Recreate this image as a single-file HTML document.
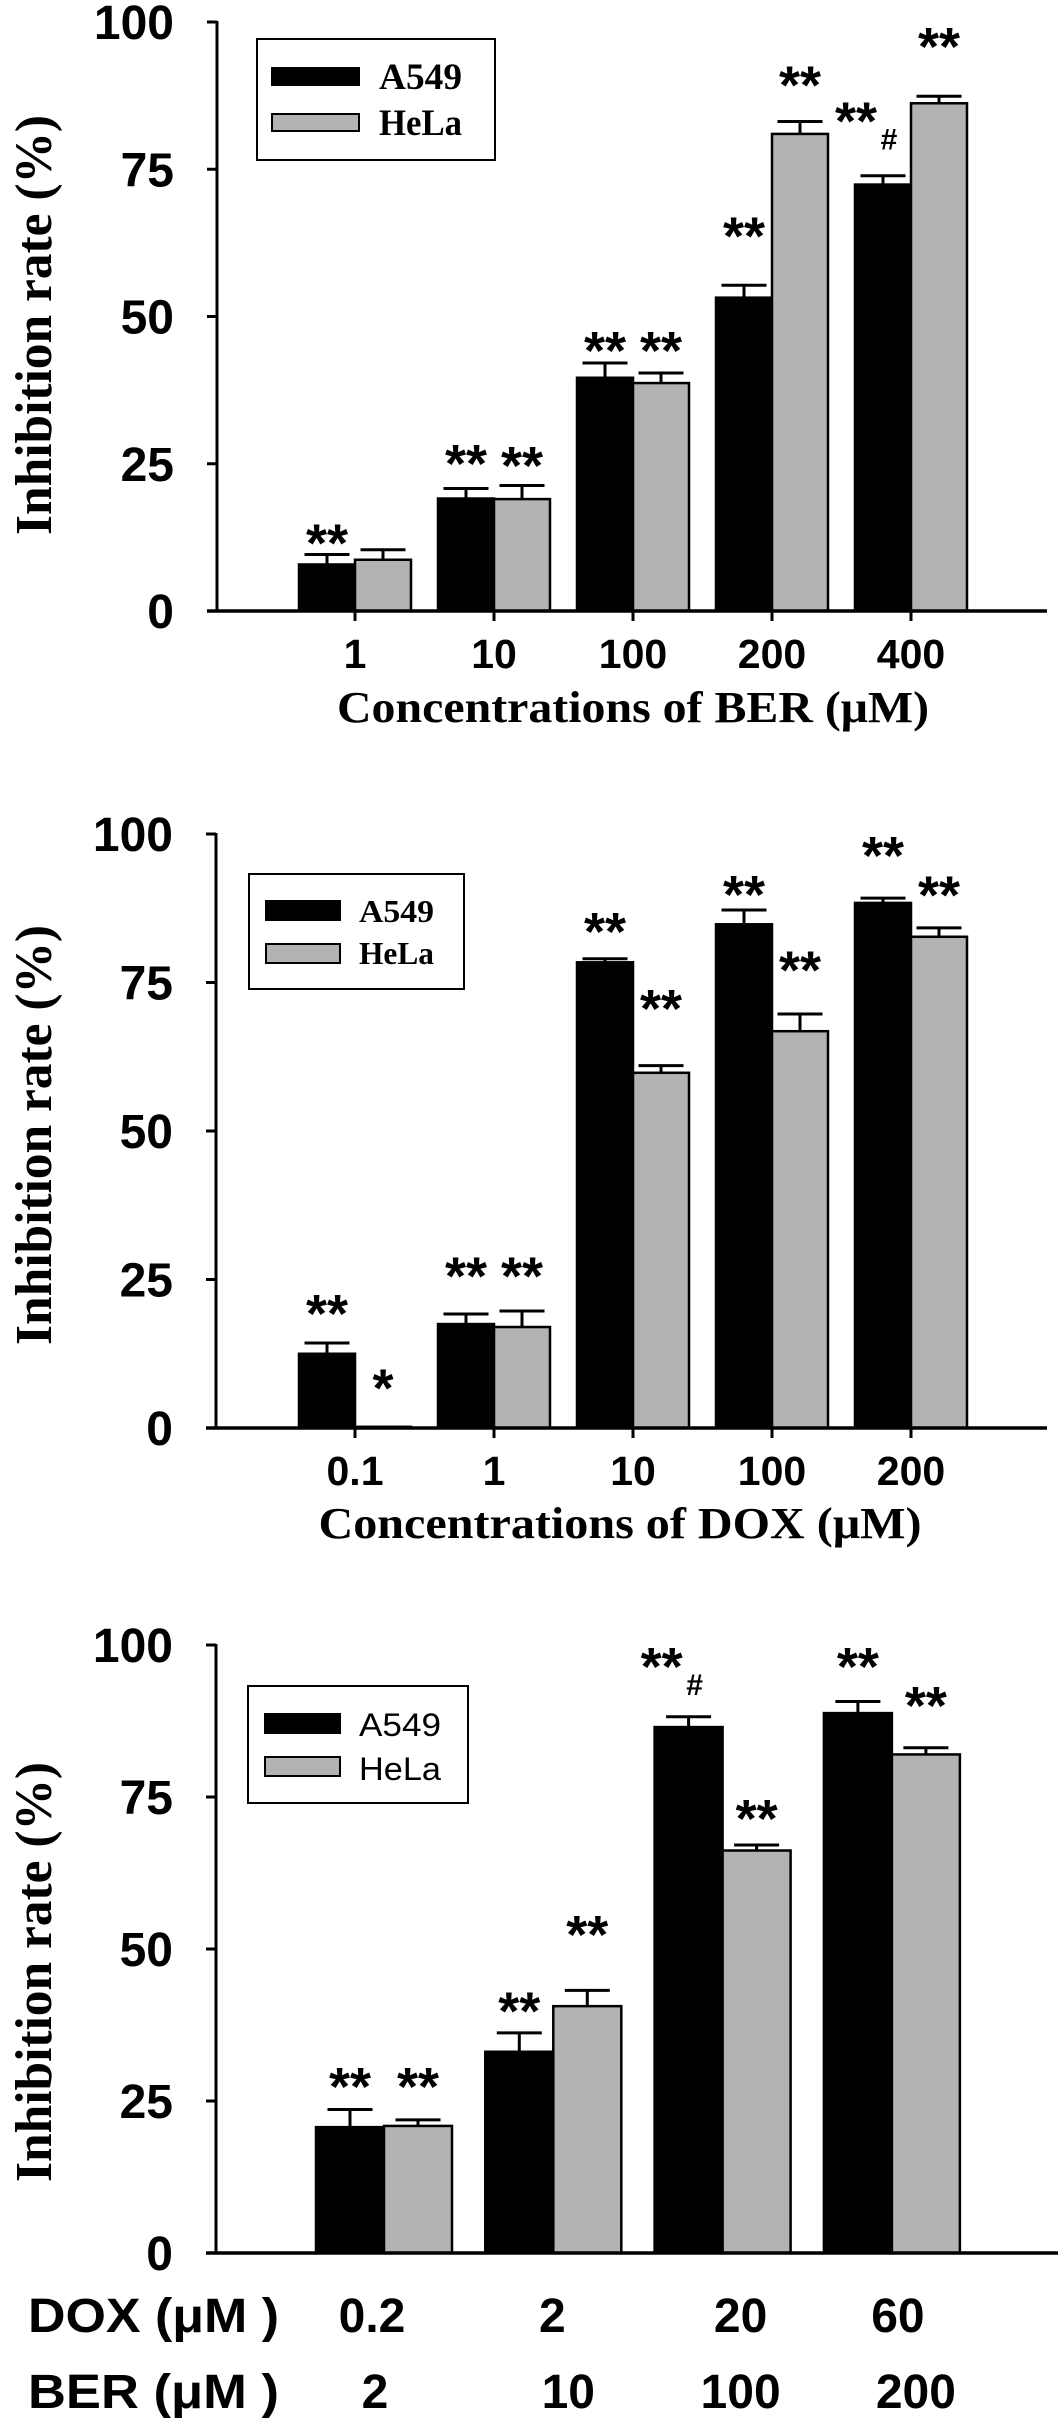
<!DOCTYPE html>
<html><head><meta charset="utf-8">
<style>
html,body{margin:0;padding:0;background:#fff;}
svg{display:block;}
</style></head>
<body>
<svg id="fig" width="1063" height="2427" viewBox="0 0 1063 2427" xmlns="http://www.w3.org/2000/svg"></svg>
<script>
// ---------- Chart 1: BER ----------
const berCats = ["1","10","100","200","400"];
const berA549 = [7.9, 19.1, 39.6, 53.2, 72.4];
const berA549Err = [1.7, 1.7, 2.5, 2.1, 1.5];
const berHeLa = [8.7, 19.0, 38.7, 81.0, 86.2];
const berHeLaErr = [1.7, 2.3, 1.7, 2.1, 1.2];
const berA549Star = ["**","**","**","**","**"];
const berHeLaStar = ["","**","**","**","**"];
const berA549StarAt = [10.4, 23.9, 43.1, 62.6, 82.1];
const berHeLaStarAt = [0, 23.6, 43.1, 88.2, 94.7];
const berA549Hash = [0,0,0,0,1];
const berTicks = [0,25,50,75,100];

// ---------- Chart 2: DOX ----------
const doxCats = ["0.1","1","10","100","200"];
const doxA549 = [12.5, 17.5, 78.4, 84.8, 88.4];
const doxA549Err = [1.8, 1.7, 0.6, 2.4, 0.8];
const doxHeLa = [0.2, 17.0, 59.8, 66.8, 82.7];
const doxHeLaErr = [0, 2.7, 1.2, 2.9, 1.5];
const doxA549Star = ["**","**","**","**","**"];
const doxHeLaStar = ["*","**","**","**","**"];
const doxA549StarAt = [18.2, 24.5, 82.5, 88.7, 95.3];
const doxHeLaStarAt = [5.6, 24.5, 69.5, 76.0, 88.6];
const doxTicks = [0,25,50,75,100];

// ---------- Chart 3: combination ----------
const comboDox = ["0.2","2","20","60"];
const comboBer = ["2","10","100","200"];
const comboA549 = [20.7, 33.1, 86.5, 88.8];
const comboA549Err = [2.9, 3.1, 1.7, 1.9];
const comboHeLa = [20.9, 40.6, 66.2, 82.0];
const comboHeLaErr = [1.0, 2.6, 0.9, 1.1];
const comboA549Star = ["**","**","**","**"];
const comboHeLaStar = ["**","**","**","**"];
const comboA549StarAt = [26.3, 38.7, 95.4, 95.4];
const comboHeLaStarAt = [26.3, 51.3, 70.4, 89.0];
const comboA549Hash = [0,0,1,0];
const comboTicks = [0,25,50,75,100];

const NS = "http://www.w3.org/2000/svg";
const svg = document.getElementById("fig");
function mk(tag, attrs, parent, text){
  const e = document.createElementNS(NS, tag);
  for (const k in attrs) e.setAttribute(k, attrs[k]);
  if (text !== undefined) e.textContent = text;
  (parent || svg).appendChild(e);
  return e;
}
const SANS = "'Liberation Sans', Arial, sans-serif";
const SERIF = "'Liberation Serif', 'Times New Roman', serif";

function drawChart(o){
  const g = mk("g", {});
  
  
  const yS = v => o.y0 - v * o.ppu;
  const xS = i => o.c0 + i * o.step;
  const ya = mk("line", {x1:o.ax, y1:yS(100)-1, x2:o.ax, y2:o.y0, stroke:"#000","stroke-width":3}, g);
  
  
  o.ticks.forEach(t => {
    const tk = mk("line", {x1:o.ax-10, y1:yS(t), x2:o.ax, y2:yS(t), stroke:"#000","stroke-width":3}, g);
    
    
    const tl = mk("text", {x:o.ax-43, y:yS(t)+17, "text-anchor":"end", "font-family":SANS, "font-weight":"bold", "font-size":48}, g, String(t));
    
    
  });
  const yt = mk("text", {x:0, y:0, transform:`translate(51,${o.ytc}) rotate(-90)`, "text-anchor":"middle", "font-family":SERIF, "font-weight":"bold", "font-size":52, textLength:420, lengthAdjust:"spacingAndGlyphs"}, g, "Inhibition rate (%)");
  
  
  const n = o.a.length;
  for (let i=0;i<n;i++){
    const cx = xS(i);
    const series = [
      {v:o.a[i], e:o.ae[i], fill:"#000", x:cx-o.bw, star:o.as[i], sAt:o.asAt[i], hash:o.ah?o.ah[i]:0, nm:"a549"},
      {v:o.h[i], e:o.he[i], fill:"#b3b3b3", x:cx, star:o.hs[i], sAt:o.hsAt[i], hash:0, nm:"hela"}
    ];
    series.forEach(s => {
      const bc = s.x + o.bw/2;
      if (s.e > 0){
        const el = mk("line", {x1:bc, y1:yS(s.v), x2:bc, y2:yS(s.v+s.e), stroke:"#000","stroke-width":3}, g);
        
        
        const ec = mk("line", {x1:bc-o.cw/2, y1:yS(s.v+s.e), x2:bc+o.cw/2, y2:yS(s.v+s.e), stroke:"#000","stroke-width":3}, g);
        
        
      }
      const r = mk("rect", {x:s.x, y:yS(s.v), width:o.bw, height:Math.max(s.v*o.ppu,1), fill:s.fill, stroke:"#000","stroke-width":2.5}, g);
      
      
      if (s.star){
        const sx = s.hash ? bc - 27 : bc;
        const st = mk("text", {x:sx, y:yS(s.sAt)+12, "text-anchor":"middle", "font-family":SANS, "font-weight":"bold", "font-size":54}, g, s.star);
        
        
        if (s.hash){
          const hs = mk("text", {x:sx+33, y:yS(s.sAt)+22, "text-anchor":"middle", "font-family":SANS, "font-weight":"bold", "font-size":30}, g, "#");
          
          
        }
      }
    });
    if (o.xticks){
      const xt = mk("line", {x1:cx, y1:o.y0, x2:cx, y2:o.y0+10, stroke:"#000","stroke-width":3}, g);
      
      
      const xl = mk("text", {x:cx, y:o.y0+57, "text-anchor":"middle", "font-family":SANS, "font-weight":"bold", "font-size":41}, g, o.cats[i]);
      
      
    }
  }
  const xa = mk("line", {x1:o.ax-10, y1:o.y0, x2:o.xEnd, y2:o.y0, stroke:"#000","stroke-width":3.5}, g);
  
  
  const L = o.leg;
  const lb = mk("rect", {x:L.x, y:L.y, width:L.w, height:L.h, fill:"#fff", stroke:"#000","stroke-width":2}, g);
  
  
  [["A549","#000",L.s1y,L.t1y],["HeLa","#b3b3b3",L.s2y,L.t2y]].forEach(e => {
    const sw = mk("rect", {x:L.sx, y:e[2], width:L.sw, height:L.sh, fill:e[1], stroke:"#000","stroke-width":2}, g);
    
    
    const lt = mk("text", {x:L.tx, y:e[3], "font-family":L.font, "font-weight":L.weight, "font-size":L.fs, textLength:L.tl, lengthAdjust:"spacingAndGlyphs"}, g, e[0]);
    
    
  });
  return g;
}

const g1 = drawChart({name:"ber-chart", y0:611, ppu:5.89, ax:217, xEnd:1047, c0:355, step:139, bw:56, cw:45, ytc:325, xticks:true,
  ticks:berTicks, cats:berCats, a:berA549, ae:berA549Err, h:berHeLa, he:berHeLaErr, as:berA549Star, hs:berHeLaStar, asAt:berA549StarAt, hsAt:berHeLaStarAt, ah:berA549Hash,
  leg:{x:257,y:39,w:238,h:121,sx:272,sw:87,sh:17,s1y:68,s2y:114,tx:379,t1y:89,t2y:135,font:SERIF,weight:"bold",fs:37,tl:83}});
const t1 = mk("text", {x:633, y:722, "text-anchor":"middle", "font-family":SERIF, "font-weight":"bold", "font-size":44, textLength:592, lengthAdjust:"spacingAndGlyphs"}, g1, "Concentrations of BER (\u03BCM)");



const g2 = drawChart({name:"dox-chart", y0:1428, ppu:5.94, ax:216, xEnd:1047, c0:355, step:139, bw:56, cw:45, ytc:1135, xticks:true,
  ticks:doxTicks, cats:doxCats, a:doxA549, ae:doxA549Err, h:doxHeLa, he:doxHeLaErr, as:doxA549Star, hs:doxHeLaStar, asAt:doxA549StarAt, hsAt:doxHeLaStarAt,
  leg:{x:249,y:874,w:215,h:115,sx:266,sw:74,sh:19,s1y:901,s2y:944,tx:359,t1y:922,t2y:964,font:SERIF,weight:"bold",fs:32,tl:75}});
const t2 = mk("text", {x:620, y:1538, "text-anchor":"middle", "font-family":SERIF, "font-weight":"bold", "font-size":44, textLength:603, lengthAdjust:"spacingAndGlyphs"}, g2, "Concentrations of DOX (\u03BCM)");



const g3 = drawChart({name:"combination-chart", y0:2253, ppu:6.08, ax:216, xEnd:1058, c0:384, step:169.3, bw:68, cw:45, ytc:1972, xticks:false,
  ticks:comboTicks, cats:comboDox, a:comboA549, ae:comboA549Err, h:comboHeLa, he:comboHeLaErr, as:comboA549Star, hs:comboHeLaStar, asAt:comboA549StarAt, hsAt:comboHeLaStarAt, ah:comboA549Hash,
  leg:{x:248,y:1686,w:220,h:117,sx:265,sw:75,sh:19,s1y:1714,s2y:1757,tx:359,t1y:1736,t2y:1780,font:SANS,weight:"normal",fs:32,tl:82}});
const doxRowLabel = mk("text", {x:28, y:2332, "font-family":SANS, "font-weight":"bold", "font-size":48, textLength:251, lengthAdjust:"spacingAndGlyphs"}, g3, "DOX (\u03BCM )");


const berRowLabel = mk("text", {x:28, y:2408, "font-family":SANS, "font-weight":"bold", "font-size":48, textLength:251, lengthAdjust:"spacingAndGlyphs"}, g3, "BER (\u03BCM )");


const doxOff = [-12, -1, 18, 6];
const berOff = [-9, 15, 18, 24];
comboDox.forEach((c,i) => {
  const cx = 384 + i*169.3;
  const d = mk("text", {x:cx + doxOff[i], y:2332, "text-anchor":"middle", "font-family":SANS, "font-weight":"bold", "font-size":48}, g3, c);
  
  
  const b = mk("text", {x:cx + berOff[i], y:2408, "text-anchor":"middle", "font-family":SANS, "font-weight":"bold", "font-size":48}, g3, comboBer[i]);
  
  
});
</script>
</body></html>
